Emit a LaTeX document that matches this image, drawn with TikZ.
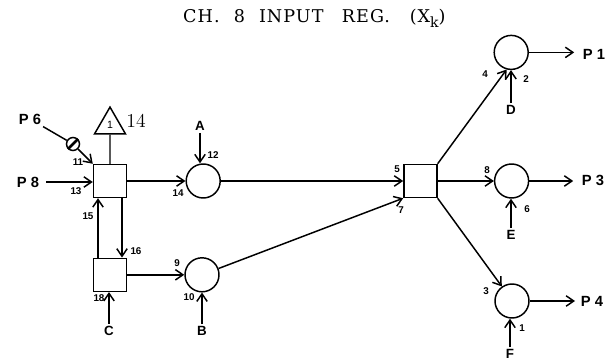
\documentclass[tikz,border=0pt]{standalone}
\usepackage{amsmath,amssymb}
\usepackage{fontspec}
\usepackage{tikz}
\usetikzlibrary{arrows.meta,shapes,positioning}

\newfontfamily\titlefont[LetterSpace=6]{DejaVu Serif}
\newfontfamily\labelfont{Liberation Sans}

\tikzset{
    flow/.style={-{Straight Barb[length=1.9mm,width=2.6mm,line width=1.05pt]}, line width=1.05pt},
    gate/.style={draw, line width=1.05pt, minimum width=0.825cm, minimum height=0.825cm, inner sep=0pt},
    junction/.style={draw, circle, line width=1.05pt, minimum size=0.85cm, inner sep=0pt},
    numlabel/.style={font=\labelfont\bfseries\fontsize{7}{8}\selectfont, inner sep=0pt},
    letter/.style={font=\labelfont\bfseries\fontsize{9.5}{11}\selectfont, inner sep=1.5pt},
    port/.style={font=\labelfont\bfseries\fontsize{10.5}{12}\selectfont, inner sep=0pt}
}

\begin{document}
\begin{tikzpicture}
            \useasboundingbox (0,0) rectangle (15.125,9);

            % Title
            \node[anchor=base, font=\titlefont\fontsize{12.5}{14}\selectfont, inner sep=0pt] (title) at (7.86,8.425) {CH.\hspace{10pt}8\hspace{10pt}INPUT\hspace{13pt}REG.\hspace{14pt}(X\raisebox{-3pt}{\fontsize{10}{11}\selectfont k})};

            % Gates
            \node[gate] (upper) at (2.75,4.475) {};
            \node[gate] (lower) at (2.75,2.13) {};
            \node[gate] (merge) at (10.51,4.475) {};

            % Junctions
            \node[junction] (ja) at (5.08,4.475) {};
            \node[junction] (jb) at (5.05,2.13) {};
            \node[junction] (jd) at (12.78,7.69) {};
            \node[junction] (je) at (12.79,4.475) {};
            \node[junction] (jf) at (12.8,1.475) {};

            % Triangle and valve
            \node[draw, regular polygon, regular polygon sides=3, line width=1.05pt, minimum size=0.895cm, inner sep=0pt, font=\labelfont\fontsize{7.5}{8}\selectfont] (tri) at (2.75,5.875) {1};
            \node[font=\fontsize{14}{16}\selectfont, inner sep=0pt] (tritext) at (3.4,5.975) {14};
            \node[draw, circle, line width=1.05pt, minimum size=0.325cm, inner sep=0pt] (valve) at (1.825,5.4) {};

            % Inputs
            \node[port] (p6) at (0.75,6.025) {P 6};
            \node[port] (p8) at (0.7,4.45) {P 8};
            \node[letter] (a) at (5.0,5.85) {A};
            \node[letter] (b) at (5.05,0.725) {B};
            \node[letter] (c) at (2.725,0.725) {C};
            \node[letter] (d) at (12.775,6.25) {D};
            \node[letter] (e) at (12.775,3.125) {E};
            \node[letter] (f) at (12.75,0.14) {F};

            % Outputs
            \node[port] (p1) at (14.85,7.65) {P 1};
            \node[port] (p3) at (14.825,4.5) {P 3};
            \node[port] (p4) at (14.8,1.475) {P 4};

            % Numbers
            \node[numlabel] (n11) at (1.95,4.95) {11};
            \node[numlabel] (n13) at (1.9,4.225) {13};
            \node[numlabel] (n12) at (5.325,5.125) {12};
            \node[numlabel] (n14) at (4.45,4.175) {14};
            \node[numlabel] (n15) at (2.2,3.6) {15};
            \node[numlabel] (n16) at (3.4,2.725) {16};
            \node[numlabel] (n9) at (4.425,2.425) {9};
            \node[numlabel] (n18) at (2.475,1.55) {18};
            \node[numlabel] (n10) at (4.725,1.575) {10};
            \node[numlabel] (n5) at (9.925,4.775) {5};
            \node[numlabel] (n7) at (10.025,3.75) {7};
            \node[numlabel] (n4) at (12.125,7.15) {4};
            \node[numlabel] (n2) at (13.15,7.025) {2};
            \node[numlabel] (n8) at (12.175,4.75) {8};
            \node[numlabel] (n6) at (13.175,3.775) {6};
            \node[numlabel] (n3) at (12.15,1.725) {3};
            \node[numlabel] (n1) at (13.05,0.8) {1};

            % Left side
            \draw[line width=1.05pt, shorten <=3pt] (p6) -- (valve);
            \draw[line width=1.8pt] (valve.225) -- (valve.45);
            \draw[flow] (valve) -- (upper.north west);
            \draw[flow, shorten <=5pt] (p8.east) -- (p8.east -| upper.west);
            \draw[line width=1.05pt] (tri.south) -- (upper.north);
            \draw[flow] ([xshift=-0.3cm]lower.north) -- ([xshift=-0.3cm]upper.south);
            \draw[flow] ([xshift=0.3cm]upper.south) -- ([xshift=0.3cm]lower.north);
            \draw[flow] (c.north) -- (c.north |- lower.south);

            % Middle
            \draw[flow] (upper.east) -- (ja.west);
            \draw[flow] (lower.east) -- (jb.west);
            \draw[flow] (a.south) -- (a.south |- ja.north);
            \draw[flow] (b.north) -- (b.north |- jb.south);
            \draw[flow] (ja.east) -- (merge.west);
            \draw[flow] (jb) -- (merge.south west);

            % Right side
            \draw[flow] (merge.north east) -- (jd.255);
            \draw[flow] (merge.east) -- (je.west);
            \draw[flow] (merge.south east) -- (jf.125);
            \draw[flow] (d.north) -- (d.north |- jd.south);
            \draw[flow] (e.north) -- (e.north |- je.south);
            \draw[flow] (f.north) -- (f.north |- jf.south);
            \draw[flow, shorten >=6pt] (jd.east) -- (jd.east -| p1.west);
            \draw[flow, shorten >=6pt] (je.east) -- (je.east -| p3.west);
            \draw[flow, shorten >=4pt] (jf.east) -- (jf.east -| p4.west);
        \end{tikzpicture}
\end{document}
